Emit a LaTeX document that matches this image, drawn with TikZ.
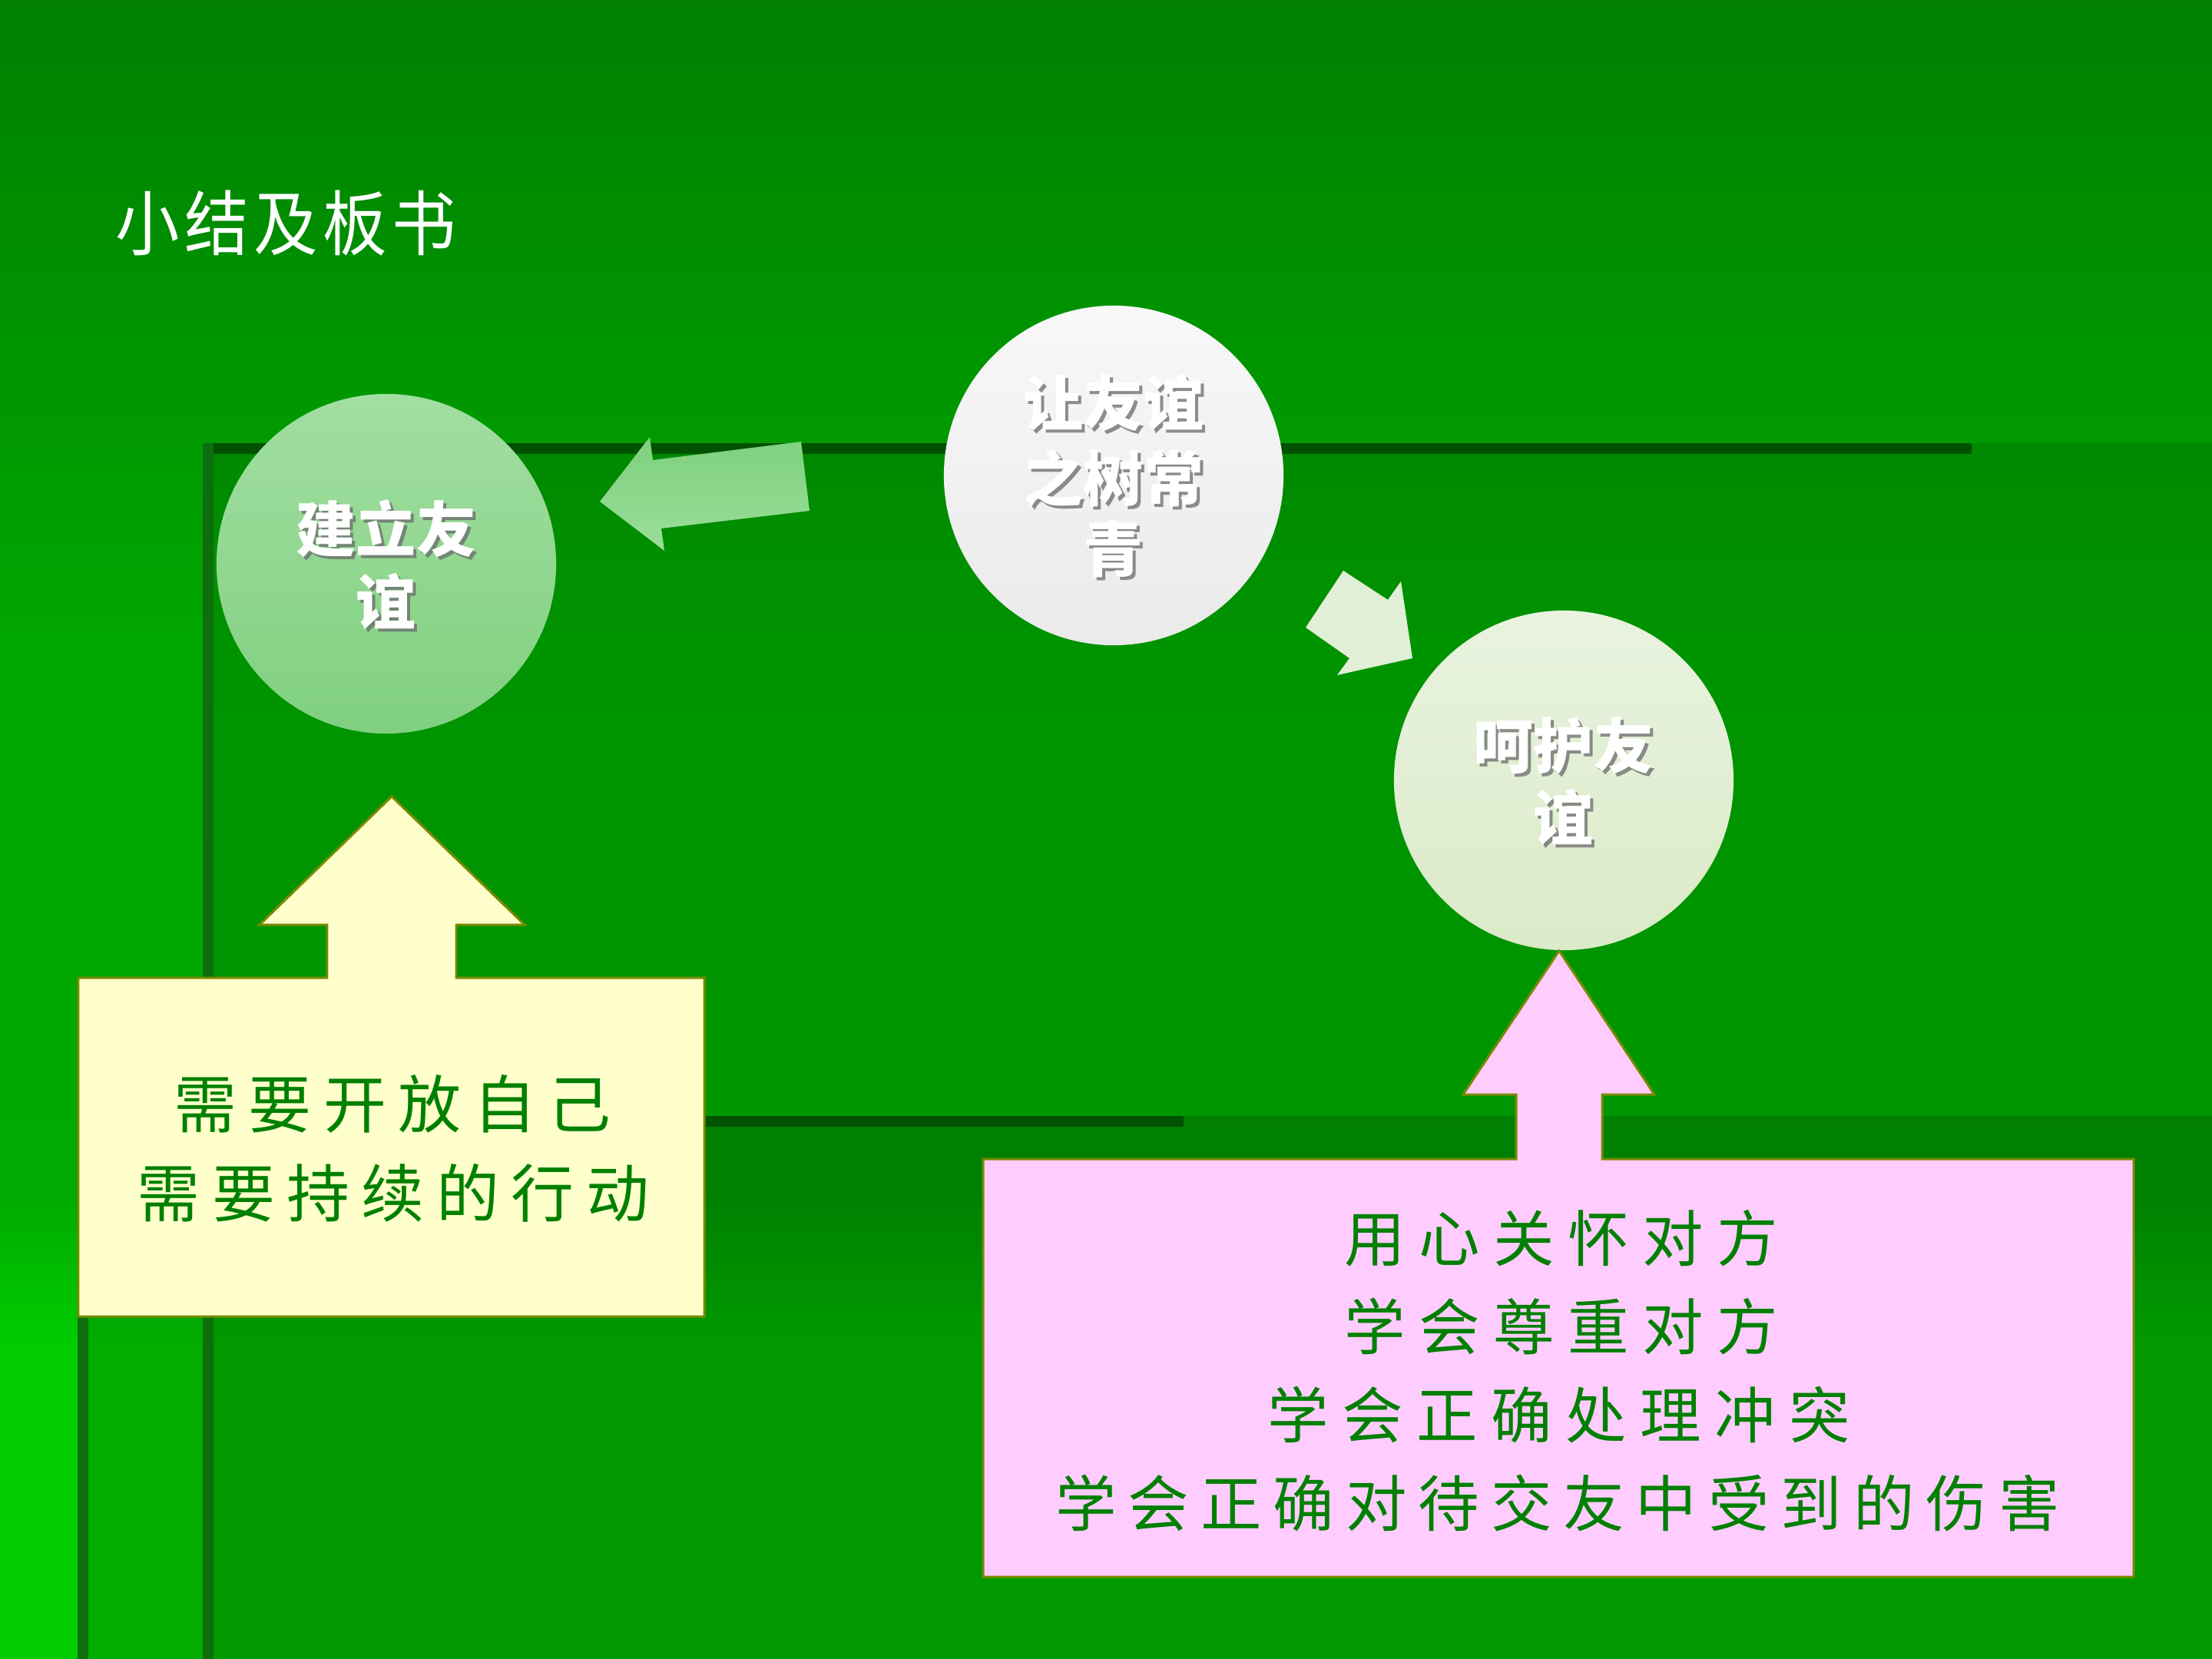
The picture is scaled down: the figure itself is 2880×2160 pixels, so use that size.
\documentclass[tikz,border=0pt]{standalone}
\usepackage{fontspec}
\usepackage{graphicx}
\newfontfamily\cjk{Noto Sans CJK SC}
\definecolor{bgT}{HTML}{007F00}
\definecolor{bgM}{HTML}{00A600}
\definecolor{bgB}{HTML}{00AA00}
\definecolor{bgC}{HTML}{00CC00}
\definecolor{hlineC}{HTML}{005200}
\definecolor{vlineC}{HTML}{0E6E0E}
\definecolor{cA1}{HTML}{A2DEA2}
\definecolor{cA2}{HTML}{80D080}
\definecolor{cB1}{HTML}{F8F8F8}
\definecolor{cB2}{HTML}{EAEAEA}
\definecolor{cC1}{HTML}{E9F3DF}
\definecolor{cC2}{HTML}{DBEAC8}
\definecolor{arL1}{HTML}{7ED07E}
\definecolor{arL2}{HTML}{9ADE9A}
\definecolor{arR}{HTML}{E2EFD7}
\definecolor{boxLine}{HTML}{7A8A00}
\definecolor{yellowFill}{HTML}{FFFFCC}
\definecolor{pinkFill}{HTML}{FFCCFF}
\definecolor{boxText}{HTML}{008000}
\definecolor{shadowC}{HTML}{6A6A6A}
\pgfdeclareverticalshading{bgshade}{100bp}{color(0bp)=(bgC); color(34.5bp)=(bgC); color(39bp)=(bgB); color(55.8bp)=(bgM); color(75bp)=(bgT); color(100bp)=(bgT)}
\def\gobbleone#1{}
\newcommand\spaced[2]{\def\spacedsep{\kern#1\relax}\spacedloop#2\relax}
\def\spacedloop#1#2{#1\ifx\relax#2\expandafter\gobbleone\else\spacedsep\expandafter\spacedloop\fi#2}
\tikzset{
  circ/.style={circle, minimum size=4.42cm, inner sep=0pt, draw=none, shading=axis},
  ctext/.style={inner sep=0pt, text=white, font=\cjk\bfseries\fontsize{22.2pt}{26pt}\selectfont},
  cshadow/.style={inner sep=0pt, text=shadowC, text opacity=0.75, font=\cjk\bfseries\fontsize{22.2pt}{26pt}\selectfont},
  hline/.style={fill=hlineC},
  vline/.style={fill=vlineC},
  callout/.style={draw=boxLine, line width=0.85pt, line join=miter},
  ytext/.style={inner sep=0pt, text=boxText, font=\cjk\fontsize{23.3pt}{28pt}\selectfont},
  ptext/.style={inner sep=0pt, text=boxText, font=\cjk\fontsize{22.6pt}{27pt}\selectfont},
  ttext/.style={inner sep=0pt, text=white, font=\cjk\fontsize{25pt}{30pt}\selectfont}
}
\begin{document}
\begin{tikzpicture}[x=0.01cm,y=-0.01cm]
\useasboundingbox (0,0) rectangle (2880,2160);
% background
\shade[shading=bgshade] (0,0) rectangle (2880,2160);
\fill[black,opacity=0.11] (264,577) rectangle (2880,2160);
\fill[black,opacity=0.15] (101,1453) rectangle (2880,2160);
\fill[hline] (264,577) rectangle (2567,591);
\fill[vline] (264,577) rectangle (278,2160);
\fill[hline] (101,1453) rectangle (1541,1467);
\fill[vline] (101,1453) rectangle (115,2160);
% title
\node[ttext] (title) at (372,290) {\scalebox{0.95}[1.05]{\spaced{0.067cm}{小结及板书}}};
% block arrows
\shade[top color=arL1, bottom color=arL2] (781,653) -- (846,569) -- (850,599) -- (1043,575) -- (1054,665) -- (861,688) -- (865,717) -- cycle;
\fill[arR] (1749,743) -- (1807,781) -- (1824,757) -- (1839,857) -- (1741,879) -- (1757,857) -- (1700,817) -- cycle;
% circles
\node[circ, top color=cA1, bottom color=cA2] (build) at (503,734) {};
\node[circ, top color=cB1, bottom color=cB2] (ever) at (1450,619) {};
\node[circ, top color=cC1, bottom color=cC2] (care) at (2036,1016) {};
% circle texts
\node[cshadow] (buildS1) at (507,692) {建立友};
\node[ctext] (build1) at (503,688) {建立友};
\node[cshadow] (buildS2) at (507,787) {谊};
\node[ctext] (build2) at (503,783) {谊};
\node[cshadow] (everS1) at (1454,529) {让友谊};
\node[ctext] (ever1) at (1450,525) {让友谊};
\node[cshadow] (everS2) at (1454,626) {之树常};
\node[ctext] (ever2) at (1450,622) {之树常};
\node[cshadow] (everS3) at (1454,719) {青};
\node[ctext] (ever3) at (1450,715) {青};
\node[cshadow] (careS1) at (2040,975) {呵护友};
\node[ctext] (care1) at (2036,971) {呵护友};
\node[cshadow] (careS2) at (2040,1068) {谊};
\node[ctext] (care2) at (2036,1064) {谊};
% yellow callout
\path[callout, fill=yellowFill] (102,1273) -- (426,1273) -- (426,1204) -- (338,1204) -- (510,1037) -- (683,1204) -- (594,1204) -- (594,1273) -- (917,1273) -- (917,1714) -- (102,1714) -- cycle;
\node[ytext] (y1) at (511,1437) {\spaced{0.155cm}{需要开放自己}};
\node[ytext] (y2) at (512,1553) {\spaced{0.155cm}{需要持续的行动}};
% pink callout
\path[callout, fill=pinkFill] (1280,1509) -- (1974,1509) -- (1974,1425) -- (1905,1425) -- (2030,1238) -- (2154,1425) -- (2086,1425) -- (2086,1509) -- (2778,1509) -- (2778,2053) -- (1280,2053) -- cycle;
\node[ptext] (p1) at (2033,1612) {\spaced{0.175cm}{用心关怀对方}};
\node[ptext] (p2) at (2033,1727) {\spaced{0.175cm}{学会尊重对方}};
\node[ptext] (p3) at (2030,1842) {\spaced{0.175cm}{学会正确处理冲突}};
\node[ptext] (p4) at (2028,1957) {\spaced{0.15cm}{学会正确对待交友中受到的伤害}};
\end{tikzpicture}
\end{document}
